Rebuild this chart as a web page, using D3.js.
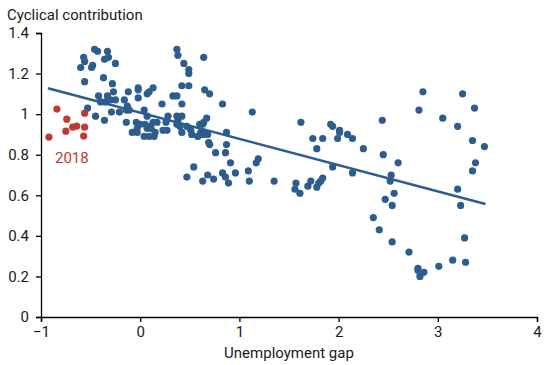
<!DOCTYPE html>
<html>
<head>
<meta charset="utf-8">
<script src="https://cdn.jsdelivr.net/npm/d3@7"></script>
<style>
  body { margin: 0; background: #fff; }
  text { font-family: Roboto, "Noto Sans", sans-serif; }
</style>
</head>
<body>
<script>
// Unemployment gap (x) and cyclical contribution (y)
var gapX = [-0.46,-0.43,-0.33,-0.57,-0.32,-0.56,-0.36,-0.25,-0.60,-0.48,-0.49,-0.37,-0.56,-0.28,-0.27,-0.42,-0.33,-0.30,-0.35,-0.25,
  -0.40,-0.12,-0.02,-0.02,0.07,0.09,0.13,-0.16,-0.02,-0.53,-0.29,-0.21,-0.14,-0.45,-0.36,-0.13,-0.11,-0.14,-0.03,-0.08,
  -0.03,0.04,0.07,0.05,0.04,0.09,0.14,0.13,0.17,0.07,0.11,0.15,0.22,0.33,0.37,0.26,0.23,0.27,0.37,0.38,
  0.42,0.37,0.40,0.42,0.42,0.37,0.38,0.44,0.49,0.49,0.42,0.49,0.47,0.51,0.52,0.58,0.60,0.63,0.64,0.67,
  0.61,0.63,0.65,0.68,0.69,0.70,0.64,0.65,0.70,0.83,0.87,0.87,0.76,0.86,0.91,1.13,1.19,1.17,1.09,0.96,
  0.68,0.54,0.47,0.74,0.83,0.63,0.89,1.10,1.35,1.62,1.74,1.84,1.78,1.92,1.94,2.01,2.01,1.99,2.09,2.14,
  2.25,1.94,2.14,2.44,2.45,2.60,2.53,2.52,2.56,2.47,2.54,2.35,2.41,2.54,2.71,2.80,2.80,2.86,2.82,3.01,
  3.15,3.28,3.27,3.23,3.20,3.35,3.38,3.47,3.35,3.20,3.05,2.81,2.85,3.25,3.37,1.56,1.61,1.57,1.69,1.78,
  1.80,1.72,1.82,1.84,0.86,-0.04,0.28,0.10,0.00];
var contribY = [1.32,1.31,1.31,1.28,1.28,1.26,1.27,1.25,1.23,1.24,1.23,1.18,1.16,1.15,1.11,1.09,1.09,1.07,1.06,1.07,
  1.06,1.11,1.13,1.12,1.10,1.11,1.13,1.07,1.08,1.03,1.01,1.01,1.02,0.99,0.97,1.04,1.02,0.96,0.91,0.91,
  0.93,1.02,0.99,0.95,0.89,0.89,0.89,0.96,0.96,0.93,0.93,0.91,1.05,1.09,1.09,0.96,0.92,0.92,0.99,0.97,
  0.99,0.95,0.94,0.91,1.05,1.32,1.29,1.25,1.22,1.20,1.14,1.14,0.94,0.92,0.90,0.89,0.95,0.95,0.96,0.98,
  0.91,0.90,0.91,0.90,0.86,0.85,1.28,1.12,1.10,1.05,0.91,0.85,0.81,0.81,0.76,1.01,0.78,0.76,0.72,0.71,
  0.70,0.74,0.69,0.68,0.71,0.67,0.66,0.67,0.67,0.96,0.88,0.88,0.83,0.95,0.94,0.92,0.91,0.88,0.90,0.88,
  0.83,0.74,0.71,0.97,0.80,0.76,0.70,0.67,0.61,0.58,0.55,0.49,0.43,0.37,0.32,0.24,0.23,0.22,0.20,0.25,
  0.28,0.27,0.39,0.55,0.63,0.72,0.76,0.84,0.87,0.94,0.98,1.02,1.11,1.10,1.03,0.63,0.61,0.66,0.645,0.64,
  0.66,0.67,0.67,0.685,0.69,0.96,0.99,0.94,0.95];

// 2018 observations
var gap2018 = [-0.92,-0.84,-0.74,-0.75,-0.68,-0.64,-0.56,-0.56,-0.57];
var contrib2018 = [0.887,1.025,0.975,0.916,0.936,0.941,1.005,0.936,0.892];

// Fitted line end points
var fitX = [-0.93, 3.48];
var fitY = [1.128, 0.557];

var xTicks = [-1, 0, 1, 2, 3, 4];
var yTicks = [0, 0.2, 0.4, 0.6, 0.8, 1, 1.2, 1.4];

var w = 550, h = 365;
var blue = "#2c5d8c", red = "#bd3b31";

var x = d3.scaleLinear().domain([-1, 4]).range([41, 537]);
var y = d3.scaleLinear().domain([0, 1.4]).range([317, 33]);

var svg = d3.select("body").append("svg")
  .attr("width", w)
  .attr("height", h);

// axes
var yAxis = svg.append("g")
  .attr("transform", "translate(41,0)")
  .call(d3.axisLeft(y).tickValues(yTicks).tickSize(5).tickPadding(7)
    .tickFormat(function(d){ return d === 0 || d === 1 ? String(d) : d3.format(".1f")(d); }));
var xAxis = svg.append("g")
  .attr("transform", "translate(0,317)")
  .call(d3.axisBottom(x).tickValues(xTicks).tickSize(5).tickPadding(4).tickFormat(d3.format("d")));

[yAxis, xAxis].forEach(function(a){
  a.select(".domain").attr("stroke", "#000").attr("stroke-width", 1.3);
  a.selectAll(".tick line").attr("stroke", "#000").attr("stroke-width", 1.3);
  a.selectAll(".tick text").attr("fill", "#1a1a1a").style("font-size", "15px");
});

svg.append("text")
  .attr("x", 7).attr("y", 20)
  .attr("fill", "#1a1a1a")
  .style("font-size", "15px")
  .text("Cyclical contribution");

svg.append("text")
  .attr("x", 289).attr("y", 358)
  .attr("text-anchor", "middle")
  .attr("fill", "#1a1a1a")
  .style("font-size", "15px")
  .text("Unemployment gap");

// points
var pts = gapX.map(function(d, i){ return [d, contribY[i]]; });
svg.append("g").selectAll("circle")
  .data(pts)
  .enter()
  .append("circle")
  .attr("cx", function(d){ return x(d[0]); })
  .attr("cy", function(d){ return y(d[1]); })
  .attr("r", 3.6)
  .attr("fill", blue);

var pts18 = gap2018.map(function(d, i){ return [d, contrib2018[i]]; });
svg.append("g").selectAll("circle")
  .data(pts18)
  .enter()
  .append("circle")
  .attr("cx", function(d){ return x(d[0]); })
  .attr("cy", function(d){ return y(d[1]); })
  .attr("r", 3.6)
  .attr("fill", red);

// fitted line
var line = d3.line()
  .x(function(d){ return x(d[0]); })
  .y(function(d){ return y(d[1]); });
svg.append("path")
  .datum(fitX.map(function(d, i){ return [d, fitY[i]]; }))
  .attr("d", line)
  .attr("fill", "none")
  .attr("stroke", blue)
  .attr("stroke-width", 2.5);

svg.append("text")
  .attr("x", 55).attr("y", 163)
  .attr("fill", red)
  .style("font-size", "15px")
  .text("2018");
</script>
</body>
</html>
